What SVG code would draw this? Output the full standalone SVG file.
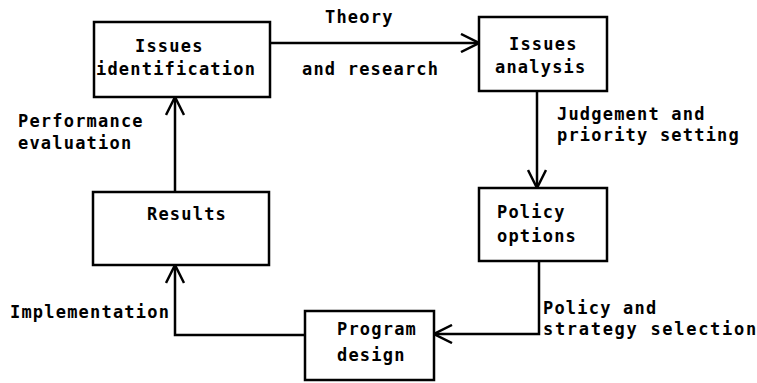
<svg xmlns="http://www.w3.org/2000/svg" width="757" height="383" viewBox="0 0 757 383">
  <style>
    .box { fill: #fff; stroke: #000; stroke-width: 2.5; }
    .edge { fill: none; stroke: #000; stroke-width: 2.5; }
    text { font-family: "DejaVu Sans Mono", "Liberation Mono", monospace; font-weight: bold; font-size: 17px; letter-spacing: 1.2px; fill: #000; }
    .wide { letter-spacing: 1.7px; }
  </style>
  <defs>
    <marker id="arrow" viewBox="0 0 20 20" refX="19" refY="10" markerWidth="20" markerHeight="20" markerUnits="userSpaceOnUse" orient="auto">
      <path d="M1,1 L19,10 L1,19" fill="none" stroke="#000" stroke-width="2.5"/>
    </marker>
  </defs>
  <rect width="757" height="383" fill="#fff"/>

  <g id="connectors">
    <line class="edge" x1="270" y1="43" x2="479" y2="43" marker-end="url(#arrow)"/>
    <line class="edge" x1="537" y1="91" x2="537" y2="188" marker-end="url(#arrow)"/>
    <polyline class="edge" points="539,261 539,334 434,334" marker-end="url(#arrow)"/>
    <polyline class="edge" points="305,335 175,335 175,265" marker-end="url(#arrow)"/>
    <line class="edge" x1="175" y1="192" x2="175" y2="97" marker-end="url(#arrow)"/>
  </g>

  <g id="labels">
    <text x="325" y="23">Theory</text>
    <text x="302" y="75">and research</text>
    <text x="557" y="120">Judgement and</text>
    <text x="557" y="141">priority setting</text>
    <text x="543" y="314">Policy and</text>
    <text class="wide" x="543" y="335">strategy selection</text>
    <text x="10" y="318">Implementation</text>
    <text x="18" y="127">Performance</text>
    <text x="18" y="149">evaluation</text>
  </g>

  <g id="issues-identification">
    <rect class="box" x="94" y="22" width="176" height="75"/>
    <text x="135" y="52">Issues</text>
    <text x="96" y="75">identification</text>
  </g>

  <g id="issues-analysis">
    <rect class="box" x="479" y="17" width="128" height="74"/>
    <text x="509" y="50">Issues</text>
    <text x="495" y="73">analysis</text>
  </g>

  <g id="policy-options">
    <rect class="box" x="479" y="188" width="128" height="73"/>
    <text x="497" y="218">Policy</text>
    <text x="497" y="242">options</text>
  </g>

  <g id="program-design">
    <rect class="box" x="305" y="311" width="129" height="69"/>
    <text x="337" y="335">Program</text>
    <text x="337" y="361">design</text>
  </g>

  <g id="results">
    <rect class="box" x="93" y="192" width="176" height="73"/>
    <text x="147" y="220">Results</text>
  </g>
</svg>
